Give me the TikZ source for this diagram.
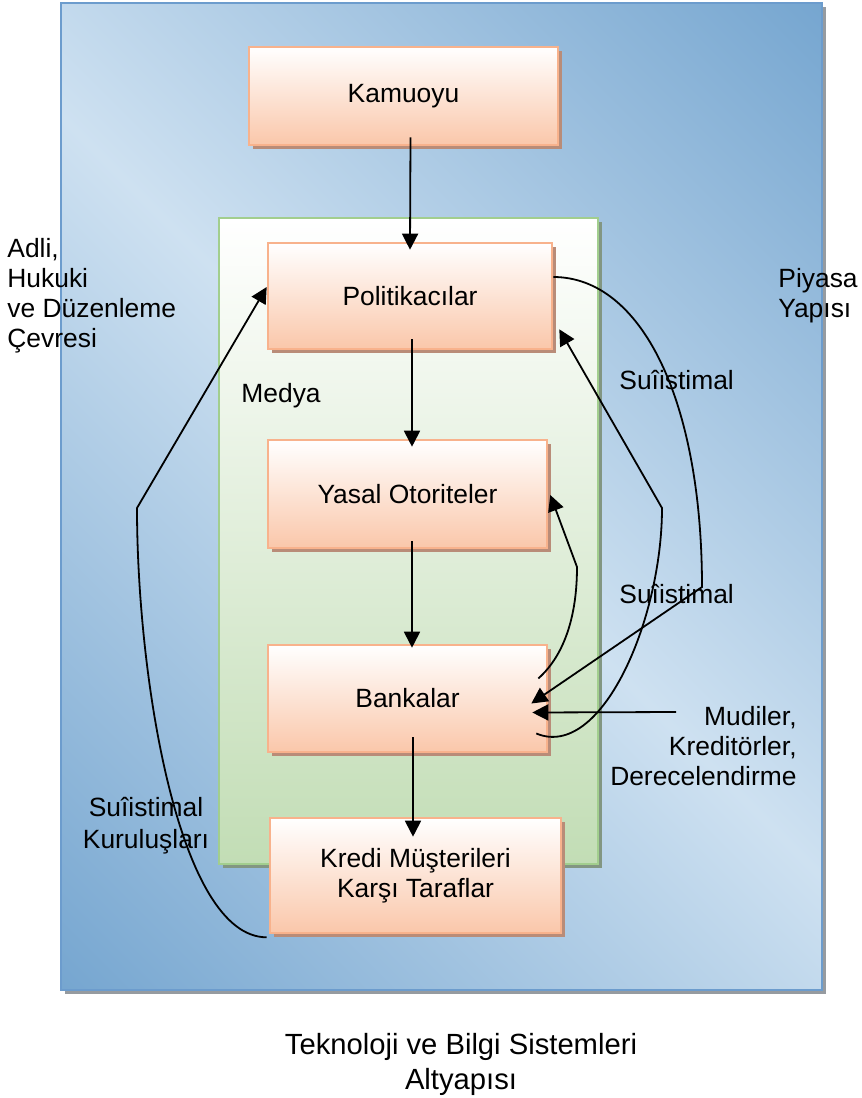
\documentclass[tikz,border=0pt]{standalone}
\usepackage{fontspec}
\setmainfont{Liberation Sans}
\usepackage{tikz}
\definecolor{mavikoyu}{RGB}{118, 166, 208}
\definecolor{maviacik}{RGB}{206, 225, 241}
\definecolor{mavicizgi}{RGB}{108, 156, 205}
\definecolor{mavigolge}{RGB}{150, 155, 160}
\definecolor{yesil}{RGB}{194, 221, 181}
\definecolor{yesilcizgi}{RGB}{162, 206, 142}
\definecolor{yesilgolge}{RGB}{130, 150, 130}
\definecolor{seftali}{RGB}{250, 199, 170}
\definecolor{kutucizgi}{RGB}{248, 178, 140}
\definecolor{kutugolge}{RGB}{185, 140, 120}
\usetikzlibrary{calc}
\usetikzlibrary{shadows}
\usetikzlibrary{arrows.meta}
\pgfdeclareverticalshading{mavi}{100bp}{color(0bp)=(mavikoyu); color(14.6bp)=(mavikoyu); color(50bp)=(maviacik); color(85.4bp)=(mavikoyu); color(100bp)=(mavikoyu)}
\newcommand{\yazi}{\fontsize{13.2}{15}\selectfont}
\newcommand{\altyazi}{\fontsize{14.6}{17.5}\selectfont}

\begin{document}
\begin{tikzpicture}[x=0.5pt, y=-0.5pt,
kutu/.style={rectangle, draw=kutucizgi, line width=1.3pt, top color=white, bottom color=seftali, inner sep=0pt, align=center, font=\yazi, drop shadow={shadow xshift=2pt, shadow yshift=-2pt, fill=kutugolge, opacity=1}},
etiket/.style={inner sep=0pt, font=\yazi},
ok/.style={line width=0.9pt, -{Triangle[length=8pt, width=8pt]}}]
\useasboundingbox (0,0) rectangle (862,1098);
\node (6) [rectangle, minimum width=380.5pt, minimum height=493.5pt, draw=mavicizgi, line width=1pt, shading=mavi, shading angle=-45, drop shadow={shadow xshift=2pt, shadow yshift=-2pt, fill=mavigolge, opacity=1}] at (441.5, 496.5) {};
\node (7) [rectangle, minimum width=189.5pt, minimum height=323pt, draw=yesilcizgi, line width=1.2pt, top color=white, bottom color=yesil, drop shadow={shadow xshift=2pt, shadow yshift=-2pt, fill=yesilgolge, opacity=1}] at (408.5, 541) {};
\node (1) [kutu, minimum width=154.5pt, minimum height=49pt] at (403.5, 96) {Kamuoyu};
\node (2) [kutu, minimum width=142pt, minimum height=53pt] at (410, 296) {Politikacılar};
\node (3) [kutu, minimum width=139.5pt, minimum height=54pt] at (407.5, 494) {Yasal Otoriteler};
\node (4) [kutu, minimum width=139.5pt, minimum height=53.5pt] at (407.5, 698.5) {Bankalar};
\node (5) [kutu, minimum width=145.5pt, minimum height=57.5pt] at (415.5, 875.5) {Kredi Müşterileri\\Karşı Taraflar};
\node (8) [etiket, anchor=north west, align=left] at (7, 238) {Adli,\\Hukuki\\ve Düzenleme\\Çevresi};
\node (9) [etiket, anchor=north west, align=left] at (778, 268) {Piyasa\\Yapısı};
\node (10) [etiket, anchor=north west] at (241, 383) {Medya};
\node (11) [etiket, anchor=north west] at (619, 370) {Suîistimal};
\node (12) [etiket, anchor=north west] at (619, 584) {Suîistimal};
\node (13) [etiket, anchor=north east, align=right] at (797, 706) {Mudiler,\\Kreditörler,\\Derecelendirme};
\node (14) [etiket, anchor=north, align=center] at (146, 797) {Suîistimal\\[1pt]Kuruluşları};
\node (15) [etiket, anchor=north, align=center, font=\altyazi] at (461, 1033) {Teknoloji ve Bilgi Sistemleri\\Altyapısı};
\coordinate (k1) at (137, 508);
\coordinate (k2) at (577, 567);
\coordinate (k3) at (702, 587);
\coordinate (k4) at (662, 508);
\coordinate (k5) at (676, 712);
\draw [ok] ($(1.south)+(7,-9)$) -- ($(2.north)+(0,8)$);
\draw [ok] ($(2.south)+(2,-11)$) -- ($(3.north)+(4.5,8)$);
\draw [ok] ($(3.south)+(4.5,-8)$) -- ($(4.north)+(4.5,4)$);
\draw [ok] ($(4.south)+(5.5,-16)$) -- ($(5.north)+(-2.5,20)$);
\draw [ok] ($(5.south west)+(-2,3)$) .. controls +(-88,0) and +(0,170) .. (k1) -- ($(2.west)+(0,-9)$);
\draw [ok] ($(4.east)+(-10,-20)$) .. controls +(28,-25) and +(0,45) .. (k2) -- ($(3.east)+(2,1)$);
\draw [ok] ($(2.east)+(0,-19)$) .. controls +(88,0) and +(0,-187) .. (k3) -- ($(4.east)+(-17,5)$);
\draw [ok] ($(4.east)+(-12,35)$) .. controls +(65,27) and +(0,112) .. (k4) -- ($(2.south east)+(6,-21)$);
\draw [ok] (k5) -- ($(4.east)+(-16,14)$);
\end{tikzpicture}
\end{document}
